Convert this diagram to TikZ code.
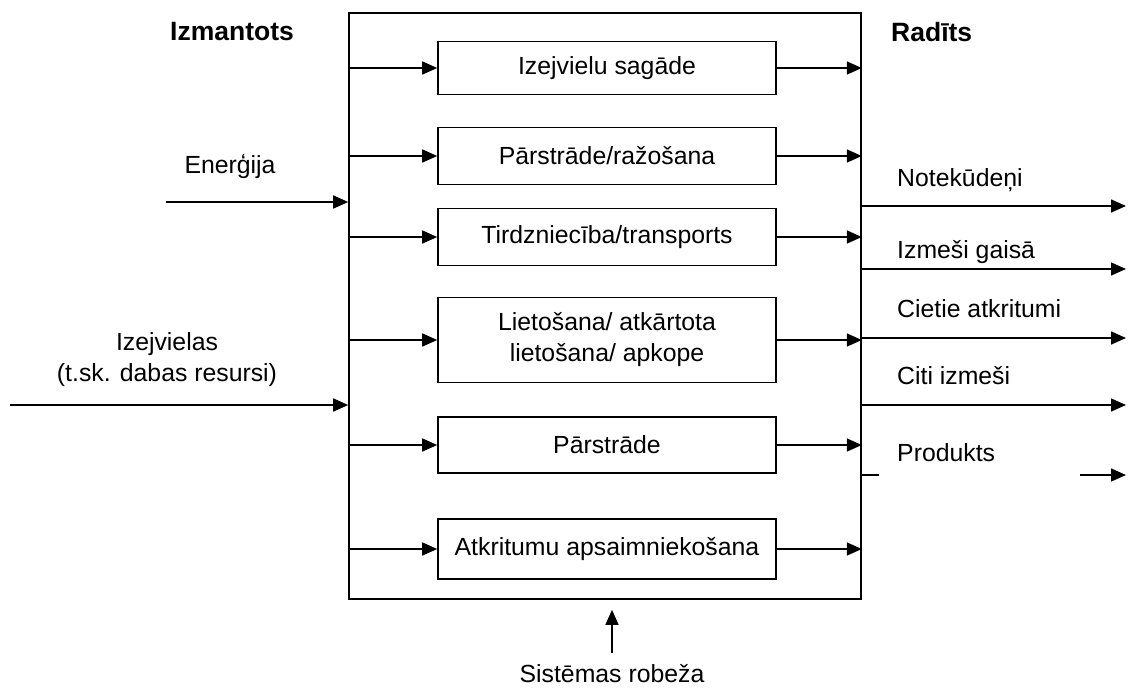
\documentclass[tikz,border=0pt]{standalone}
\usepackage{fontspec}
\setmainfont{Liberation Sans}
\usetikzlibrary{arrows.meta,calc}
\begin{document}
\begin{tikzpicture}[x=1pt,y=-1pt,
  every node/.style={font=\fontsize{24.8}{31}\selectfont, inner sep=0pt},
  pbox/.style={draw, line width=1.6pt, minimum width=338pt, align=center},
  sysbox/.style={draw, line width=1.6pt, minimum width=512pt, minimum height=586pt},
  arr/.style={line width=1.6pt, -{Triangle[length=15pt,width=13pt]}},
  ln/.style={line width=1.6pt},
  lbl/.style={anchor=west},
  head/.style={font=\fontsize{26.5}{31}\selectfont\bfseries}]
\useasboundingbox (0,0) rectangle (1130,689);
% system boundary
\node[sysbox] (sys) at (605,306) {};
% process boxes
\node[pbox, minimum height=53pt] (b1) at (607,68) {Izejvielu sagāde};
\node[pbox, minimum height=57pt] (b2) at (607,156) {Pārstrāde/ražošana};
\node[pbox, minimum height=57pt] (b3) at (607,237) {Tirdzniecība/transports};
\node[pbox, minimum height=85pt] (b4) at (607,340) {Lietošana/ atkārtota\\lietošana/ apkope};
\node[pbox, minimum height=56pt] (b5) at (607,445) {Pārstrāde};
\node[pbox, minimum height=60pt] (b6) at (607,549) {Atkritumu apsaimniekošana};
\foreach \b in {b1,b2,b3,b4,b5,b6}{
  \draw[arr] (sys.west |- \b) -- (\b.west);
  \draw[arr] (\b.east) -- (sys.east |- \b);
}
% headings
\node[head] (hin) at (232,32) {Izmantots};
\node[head, anchor=west] (hout) at (891,32) {Radīts};
% inputs
\node (en) at (230,167) {Enerģija};
\coordinate (e0) at (166,202);
\draw[arr] (e0) -- (sys.west |- e0);
\node[align=center] (iz) at (167,360) {Izejvielas\\(t.sk. dabas resursi)};
\coordinate (i0) at (10,405);
\draw[arr] (i0) -- (sys.west |- i0);
% outputs
\node[lbl] (t1) at (897,180) {Notekūdeņi};
\coordinate (o1) at (1126,206);
\draw[arr] (sys.east |- o1) -- (o1);
\node[lbl] (t2) at (897,252) {Izmeši gaisā};
\coordinate (o2) at (1126,269);
\draw[arr] (sys.east |- o2) -- (o2);
\node[lbl] (t3) at (897,309) {Cietie atkritumi};
\coordinate (o3) at (1126,338);
\draw[arr] (sys.east |- o3) -- (o3);
\node[lbl] (t4) at (897,376) {Citi izmeši};
\coordinate (o4) at (1126,405);
\draw[arr] (sys.east |- o4) -- (o4);
\node[lbl] (t5) at (897,453) {Produkts};
\coordinate (p1) at (879,475);
\coordinate (p2) at (1080,475);
\coordinate (p3) at (1126,475);
\draw[ln] (sys.east |- p1) -- (p1);
\draw[arr] (p2) -- (p3);
% system boundary label
\node (sr) at (612,674) {Sistēmas robeža};
\coordinate (s0) at (612,653);
\draw[arr] (s0) -- ($(sys.south -| s0)+(0,10)$);
\end{tikzpicture}
\end{document}
